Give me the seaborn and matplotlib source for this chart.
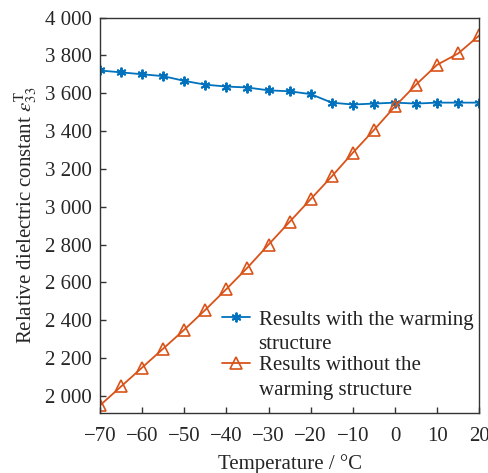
import numpy as np
import pandas as pd
import matplotlib
matplotlib.use("Agg")
import matplotlib.pyplot as plt
import seaborn as sns
from matplotlib.ticker import FuncFormatter, FixedLocator
from matplotlib.legend_handler import HandlerLine2D

# ---- data ----
temperature = [-70, -65, -60, -55, -50, -45, -40, -35, -30, -25,
               -20, -15, -10, -5, 0, 5, 10, 15, 20]
with_warming = [3720, 3710, 3700, 3690, 3665, 3645, 3635, 3630, 3615, 3610,
                3595, 3550, 3540, 3545, 3550, 3545, 3550, 3550, 3550]
without_warming = [1950, 2050, 2150, 2250, 2350, 2455, 2565, 2678, 2800, 2920,
                   3040, 3160, 3285, 3405, 3530, 3645, 3750, 3810, 3905]
label_with = "Results with the warming\nstructure"
label_without = "Results without the\nwarming structure"
x_ticks = [-70, -60, -50, -40, -30, -20, -10, 0, 10, 20]
y_ticks = [2000, 2200, 2400, 2600, 2800, 3000, 3200, 3400, 3600, 3800, 4000]

sns.set_theme(style="white")
plt.rcParams["font.family"] = ["Liberation Serif", "DejaVu Serif"]
plt.rcParams["mathtext.fontset"] = "stix"
plt.rcParams["axes.unicode_minus"] = True

df_with = pd.DataFrame({"T": temperature, "v": with_warming})
df_without = pd.DataFrame({"T": temperature, "v": without_warming})

fig = plt.figure(figsize=(4.88, 4.73), dpi=100)
ax = fig.add_axes([0.205, 0.127, 0.777, 0.836])

blue = "#0072BD"
red = "#D95319"
sns.lineplot(data=df_with, x="T", y="v", ax=ax, color=blue, lw=1.3,
             marker=(6, 2, 0), markersize=7, markeredgewidth=1.4,
             markeredgecolor=blue, label=label_with)
sns.lineplot(data=df_without, x="T", y="v", ax=ax, color=red, lw=1.3,
             marker="^", markersize=8, markerfacecolor="none",
             markeredgewidth=1.2, markeredgecolor=red, label=label_without)

ax.set_xlim(-70, 20)
ax.set_ylim(1910, 4000)
ax.xaxis.set_major_locator(FixedLocator(x_ticks))
ax.yaxis.set_major_locator(FixedLocator(y_ticks))
ax.yaxis.set_major_formatter(FuncFormatter(lambda v, p: f"{int(v):,}".replace(",", " ")))
ax.tick_params(axis="both", which="major", direction="in", length=4, width=1,
               color="#333333", labelsize=15, pad=6,
               bottom=True, left=True, top=False, right=False)
ax.tick_params(axis="x", pad=10)
for s in ax.spines.values():
    s.set_color("#333333")
    s.set_linewidth(1.0)

ax.set_xlabel("Temperature / °C", fontsize=15, labelpad=6)
ax.set_ylabel(r"Relative dielectric constant $\varepsilon_{33}^{\mathrm{T}}$", fontsize=15, labelpad=4)


class UpHandler(HandlerLine2D):
    def create_artists(self, legend, orig_handle, xdescent, ydescent, width,
                       height, fontsize, trans):
        arts = super().create_artists(legend, orig_handle, xdescent, ydescent,
                                      width, height, fontsize, trans)
        for a in arts:
            x, y = a.get_data()
            a.set_data(x, np.asarray(y, dtype=float) + 0.72 * fontsize)
        return arts


handles, labels = ax.get_legend_handles_labels()
leg = ax.legend(handles, labels, loc="upper left", bbox_to_anchor=(0.322, 0.258),
                frameon=False, fontsize=15, handlelength=1.35, handletextpad=0.4,
                labelspacing=0.1, borderpad=0, borderaxespad=0,
                handler_map={h: UpHandler() for h in handles})
for t in leg.get_texts():
    t.set_linespacing(1.38)
    t.set_color("#222222")

fig.savefig("out.png", dpi=100)
